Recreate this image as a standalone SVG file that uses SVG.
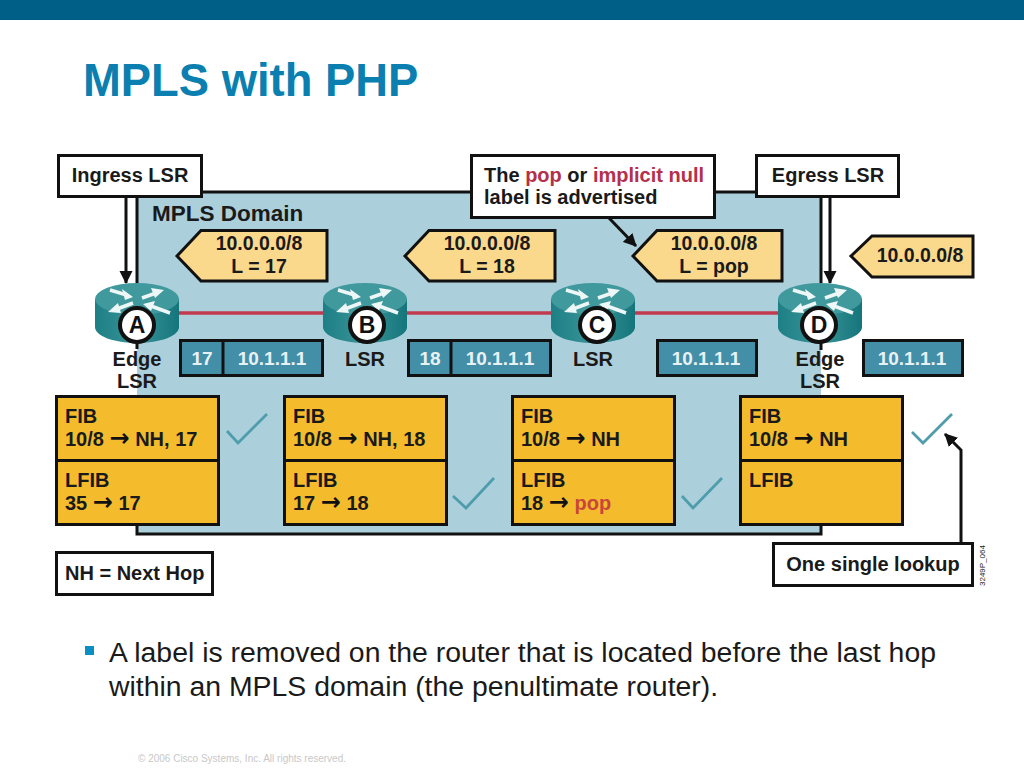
<svg xmlns="http://www.w3.org/2000/svg" width="1024" height="768" viewBox="0 0 1024 768">
<defs>
<style>
text{font-family:"Liberation Sans",Arial,sans-serif}
.b{font-weight:bold;fill:#1a1a1a;font-size:20px}
.f{font-size:19.5px}
.w{font-weight:bold;fill:#e8f2f5;font-size:19px}
.box{fill:#fff;stroke:#111;stroke-width:3}
.flag{fill:#fbd98c;stroke:#111;stroke-width:3}
.lab{fill:#438fa8;stroke:#111;stroke-width:3}
.fib{fill:#f4bc2c;stroke:#111;stroke-width:3}
.chk{fill:none;stroke:#4f9dac;stroke-width:2.8}
.ln{fill:none;stroke:#111;stroke-width:3}
.m{text-anchor:middle}
.ar{font-family:"DejaVu Sans",sans-serif;font-size:24px;fill:#111}
.badge{fill:#fff;stroke:#111;stroke-width:4}
.bt{font-size:23px;font-weight:bold;fill:#111;text-anchor:middle}
</style>
<linearGradient id="body" x1="0" x2="1" y1="0" y2="0">
<stop offset="0" stop-color="#1d7f85"/><stop offset="0.5" stop-color="#3a9598"/><stop offset="1" stop-color="#14757b"/>
</linearGradient>
<marker id="ah" markerUnits="userSpaceOnUse" markerWidth="14" markerHeight="14" refX="12" refY="7" orient="auto">
<path d="M0 0.5L13 7L0 13.5z" fill="#111"/>
</marker>
<g id="router">
<path d="M-42-1V27C-42 36-23 43 0 43S42 36 42 27V-1z" fill="url(#body)"/>
<ellipse cx="0" cy="-1" rx="42" ry="16" fill="#40999c"/>
<path d="M-27-10L-12-5.5M5-2L19-7M-4 3L-20 9M33 13L14 6" fill="none" stroke="#eef7f7" stroke-width="3.5"/>
<path d="M-4-3L-15-11L-12 0zM27-10L14-12L18-2zM-29 12L-19 3L-16 13zM6 4L18 1L14 11z" fill="#eef7f7"/>
</g>
</defs>
<rect width="1024" height="20" fill="#005f87"/>
<text x="83" y="96" font-size="45.4" font-weight="bold" fill="#0a7fb0">MPLS with PHP</text>

<g id="domain">
<rect x="137" y="192" width="684" height="342" fill="#abd0dc"/>
<path class="ln" d="M137 283V192H821V283M821 342V350M137 342V349M821 525V534H137V525"/>
</g>

<g id="connectors">
<path d="M178 313H780" stroke="#c23a4e" stroke-width="3.5" fill="none"/>
<path class="ln" marker-end="url(#ah)" d="M126 197V283"/>
<path class="ln" marker-end="url(#ah)" d="M830 197V283"/>
<path class="ln" marker-end="url(#ah)" d="M609 218L636 246"/>
<path class="ln" marker-end="url(#ah)" d="M961 543V450L945 434"/>
</g>

<g id="ingress"><rect class="box" x="58.5" y="155.5" width="143" height="41"/><text class="b m" x="130" y="182">Ingress LSR</text></g>
<g id="egress"><rect class="box" x="756.5" y="155.5" width="142" height="41"/><text class="b m" x="828" y="182">Egress LSR</text></g>
<g id="callout"><rect class="box" x="471.5" y="155.5" width="243" height="62"/>
<text class="b" x="484" y="182">The <tspan fill="#b5304a">pop</tspan> or <tspan fill="#b5304a">implicit null</tspan></text>
<text class="b" x="484" y="204">label is advertised</text></g>
<text x="152" y="221" font-size="22.5" font-weight="bold" fill="#1a1a1a">MPLS Domain</text>

<g id="flag-a"><path class="flag" d="M177 256L201 230.500H327V281H201z"/><text class="b f m" x="259" y="250">10.0.0.0/8</text><text class="b f m" x="259" y="273">L = 17</text></g>
<g id="flag-b"><path class="flag" d="M405 256L429 230.500H555V281H429z"/><text class="b f m" x="487" y="250">10.0.0.0/8</text><text class="b f m" x="487" y="273">L = 18</text></g>
<g id="flag-c"><path class="flag" d="M633 256L657 230.500H782V281H657z"/><text class="b f m" x="714" y="250">10.0.0.0/8</text><text class="b f m" x="714" y="273">L = pop</text></g>
<g id="flag-d"><path class="flag" d="M851 256L872 236H973V277H872z"/><text class="b f m" x="920" y="262">10.0.0.0/8</text></g>

<g id="node-a"><use href="#router" x="137" y="300"/><circle class="badge" cx="137" cy="325" r="17"/><text class="bt" x="137" y="333">A</text><text class="b m" x="137" y="366">Edge</text><text class="b m" x="137" y="388">LSR</text></g>
<g id="node-b"><use href="#router" x="365" y="300"/><circle class="badge" cx="367" cy="325" r="17"/><text class="bt" x="367" y="333">B</text><text class="b m" x="365" y="366">LSR</text></g>
<g id="node-c"><use href="#router" x="593" y="300"/><circle class="badge" cx="597" cy="325" r="17"/><text class="bt" x="597" y="333">C</text><text class="b m" x="593" y="366">LSR</text></g>
<g id="node-d"><use href="#router" x="820" y="300"/><circle class="badge" cx="819" cy="325" r="17"/><text class="bt" x="819" y="333">D</text><text class="b m" x="820" y="366">Edge</text><text class="b m" x="820" y="388">LSR</text></g>

<g id="label-a"><rect class="lab" x="180.500" y="340.500" width="142" height="35"/><path class="ln" d="M223 341V376"/><text class="w m" x="202" y="365">17</text><text class="w m" x="272" y="365">10.1.1.1</text></g>
<g id="label-b"><rect class="lab" x="408.500" y="340.500" width="142" height="35"/><path class="ln" d="M451 341V376"/><text class="w m" x="430" y="365">18</text><text class="w m" x="500" y="365">10.1.1.1</text></g>
<g id="label-c"><rect class="lab" x="657.500" y="340.500" width="99" height="35"/><text class="w m" x="706" y="365">10.1.1.1</text></g>
<g id="label-d"><rect class="lab" x="863.500" y="340.500" width="99" height="35"/><text class="w m" x="912" y="365">10.1.1.1</text></g>

<g id="table-a"><rect class="fib" x="56.500" y="396.500" width="162" height="128"/><path class="ln" d="M56 460.500H219"/><text class="b" x="65" y="423">FIB</text><text class="b" x="65" y="446">10/8 <tspan class="ar">→</tspan> NH, 17</text><text class="b" x="65" y="487">LFIB</text><text class="b" x="65" y="510">35 <tspan class="ar">→</tspan> 17</text></g>
<g id="table-b"><rect class="fib" x="284.500" y="396.500" width="162" height="128"/><path class="ln" d="M284 460.500H447"/><text class="b" x="293" y="423">FIB</text><text class="b" x="293" y="446">10/8 <tspan class="ar">→</tspan> NH, 18</text><text class="b" x="293" y="487">LFIB</text><text class="b" x="293" y="510">17 <tspan class="ar">→</tspan> 18</text></g>
<g id="table-c"><rect class="fib" x="512.500" y="396.500" width="162" height="128"/><path class="ln" d="M512 460.500H675"/><text class="b" x="521" y="423">FIB</text><text class="b" x="521" y="446">10/8 <tspan class="ar">→</tspan> NH</text><text class="b" x="521" y="487">LFIB</text><text class="b" x="521" y="510">18 <tspan class="ar">→</tspan> <tspan fill="#c8463c">pop</tspan></text></g>
<g id="table-d"><rect class="fib" x="740.500" y="396.500" width="162" height="128"/><path class="ln" d="M740 460.500H903"/><text class="b" x="749" y="423">FIB</text><text class="b" x="749" y="446">10/8 <tspan class="ar">→</tspan> NH</text><text class="b" x="749" y="487">LFIB</text></g>

<g id="checks">
<path class="chk" d="M227 431L238 443L267 414"/>
<path class="chk" d="M453 496L466 508L494 478"/>
<path class="chk" d="M682 496L693 508L722 478"/>
<path class="chk" d="M912 432L923 443L952 414"/>
</g>

<g id="nh"><rect class="box" x="56.500" y="552.500" width="156" height="42"/><text class="b" x="65" y="580">NH = Next Hop</text></g>
<g id="lookup"><rect class="box" x="773.500" y="543.500" width="199" height="42"/><text class="b m" x="873" y="571">One single lookup</text></g>
<text transform="translate(985 586) rotate(-90)" font-size="8" fill="#222">3249P_064</text>

<rect x="85" y="646" width="9" height="9" fill="#0a8fc4"/>
<text x="109" y="662" font-size="28.4" fill="#1a1a1a">A label is removed on the router that is located before the last hop</text>
<text x="109" y="696" font-size="28.4" fill="#1a1a1a">within an MPLS domain (the penultimate router).</text>
<text x="138" y="762" font-size="10" fill="#c8c8c8">© 2006 Cisco Systems, Inc. All rights reserved.</text>
</svg>
